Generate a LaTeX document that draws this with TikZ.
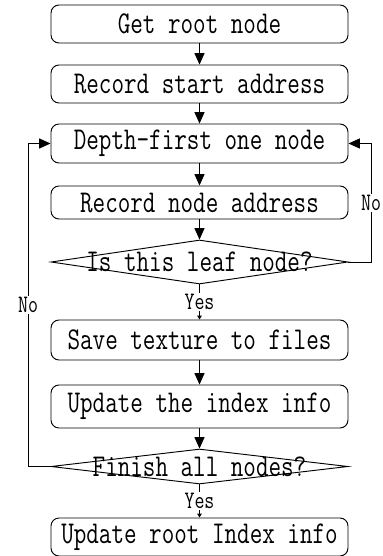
\documentclass[tikz,border=0pt]{standalone}
\usepackage{graphicx}
\usepackage{fontspec}
\usepackage{tikz}
\usetikzlibrary{arrows.meta}
\usetikzlibrary{shapes.geometric}

\newcommand{\tallt}[1]{\scalebox{1}[1.3]{#1}}

\tikzset{
    stepbox/.style={draw, line width=0.7pt, rounded corners=6pt, minimum width=222.75pt, minimum height=28.5pt, inner sep=0pt, font=\ttfamily\fontsize{18.3}{20}\selectfont},
    decbox/.style={draw, diamond, line width=0.7pt, minimum width=222.75pt, minimum height=33pt, inner sep=0pt},
    dectext/.style={inner sep=0pt, font=\ttfamily\fontsize{18.3}{20}\selectfont},
    flowlbl/.style={fill=white, inner sep=1pt, font=\ttfamily\fontsize{14.5}{16}\selectfont},
    flow/.style={line width=0.7pt, -{Triangle[length=8.5pt,width=7.5pt]}},
    flowsmall/.style={line width=0.7pt, -{Triangle[length=3pt,width=3.5pt]}}
}

\begin{document}
\begin{tikzpicture}[x=0.75pt, y=-0.75pt]
        \useasboundingbox (0,0) rectangle (382,556);
        \node[stepbox] (getroot) at (199.5,24) {\tallt{Get root node}};
        \node[stepbox] (recstart) at (199.5,84) {\tallt{Record start address}};
        \node[stepbox, minimum height=29.25pt] (depth) at (199.5,143.5) {\tallt{Depth-first one node}};
        \node[stepbox, minimum height=24.75pt] (recnode) at (199.5,202.5) {\tallt{Record node address}};
        \node[decbox] (isleaf) at (199.5,262) {};
        \node[dectext] (isleaftxt) at (isleaf) {\tallt{Is this leaf node?}};
        \node[stepbox, minimum height=30pt] (save) at (199.5,340) {\tallt{Save texture to files}};
        \node[stepbox, minimum height=32.25pt] (update) at (199.5,406.5) {\tallt{Update the index info}};
        \node[decbox, minimum height=26.25pt] (finish) at (199.5,466.5) {};
        \node[dectext] (finishtxt) at (finish) {\tallt{Finish all nodes?}};
        \node[stepbox] (updroot) at (199.5,537) {\tallt{Update root Index info}};
        \coordinate (rightturn) at (371,143.5);
        \coordinate (leftturn) at (28,143.5);

        \draw[flow] (getroot) -- (recstart);
        \draw[flow] (recstart) -- (depth);
        \draw[flow] (depth) -- (recnode);
        \draw[flow] (recnode) -- (isleaf.north);
        \draw[flowsmall] (isleaf.south) -- node[flowlbl] {\tallt{Yes}} (save);
        \draw[flow] (save) -- (update);
        \draw[flow] (update) -- (finish.north);
        \draw[flowsmall] (finish.south) -- node[flowlbl] {\tallt{Yes}} (updroot);
        \draw[line width=0.7pt] (isleaf.east) -| node[flowlbl, pos=0.75] {\tallt{No}} (rightturn);
        \draw[flow] (rightturn) -- (depth.east);
        \draw[line width=0.7pt] (finish.west) -| node[flowlbl, pos=0.75] {\tallt{No}} (leftturn);
        \draw[flow] (leftturn) -- (depth.west);
\end{tikzpicture}
\end{document}
